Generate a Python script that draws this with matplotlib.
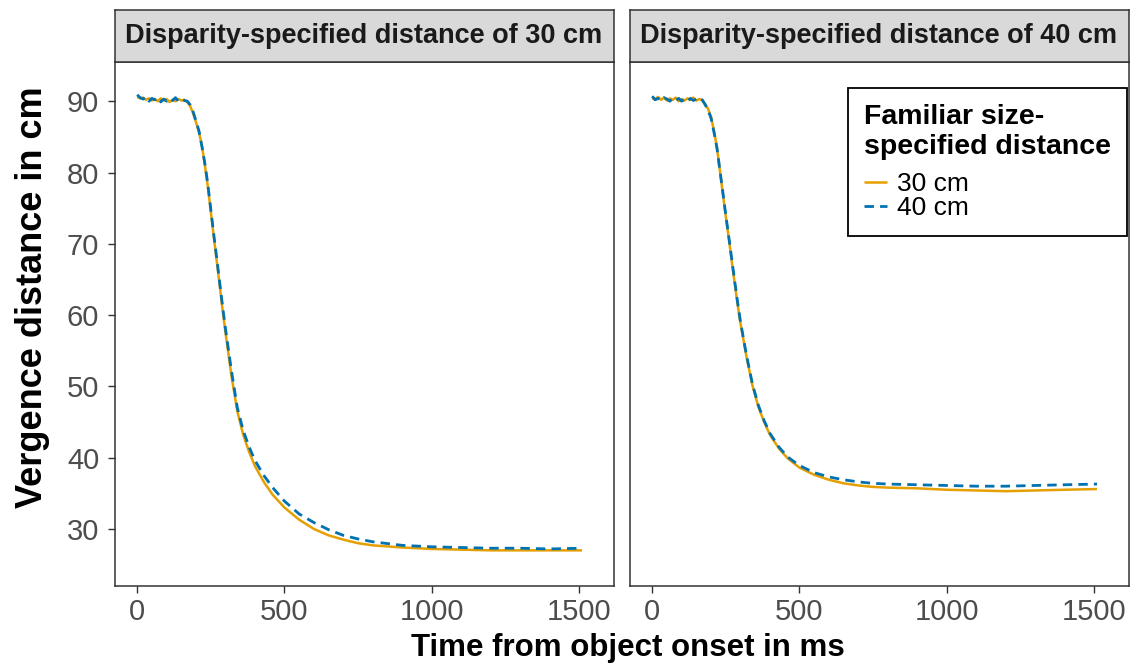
import matplotlib
matplotlib.use("Agg")
import matplotlib.pyplot as plt

plt.rcParams['font.family'] = ['Liberation Sans', 'DejaVu Sans']

# ---------------- data ----------------
time_ms = [0, 10, 20, 30, 40, 50, 60, 70, 80, 90, 100, 110, 120, 130, 140, 150, 160, 170,
           180, 190, 200, 210, 220, 230, 240, 250, 260, 270, 280, 290, 300, 320, 340, 360,
           380, 400, 430, 460, 500, 550, 600, 650, 700, 750, 800, 900, 1000, 1100, 1200,
           1300, 1400, 1510]

# Disparity 30 cm panel
d30_fs30 = [90.6, 90.4, 90.5, 90.2, 90.4, 90.1, 90.3, 90.0, 90.4, 90.1, 90.3, 89.9, 90.2, 90.0,
            90.3, 90.1, 90.2, 89.9, 89.3, 88.3, 87.0, 85.6, 83.7, 81.0, 78.0, 74.5, 71.0, 67.6,
            64.2, 60.7, 57.5, 51.5, 46.5, 43.2, 40.8, 38.8, 36.6, 34.8, 33.0, 31.3, 30.0, 29.1,
            28.5, 28.0, 27.7, 27.4, 27.2, 27.1, 27.0, 27.0, 27.0, 27.0]
d30_fs40 = [90.9, 90.5, 90.3, 90.6, 90.0, 90.4, 90.2, 90.5, 89.9, 90.3, 90.0, 90.4, 90.1, 90.5,
            90.0, 90.3, 90.1, 90.0, 89.5, 88.5, 87.2, 85.8, 83.6, 81.2, 78.3, 74.8, 71.3, 68.0,
            64.6, 61.2, 58.0, 52.2, 47.0, 43.8, 41.5, 39.6, 37.5, 35.8, 33.9, 32.1, 30.9, 29.9,
            29.1, 28.6, 28.2, 27.7, 27.5, 27.4, 27.3, 27.3, 27.2, 27.3]

# Disparity 40 cm panel
d40_fs30 = [90.4, 90.3, 90.6, 90.2, 90.5, 90.1, 90.4, 90.2, 90.5, 90.0, 90.3, 90.1, 90.4, 90.2,
            90.5, 90.1, 90.3, 90.1, 89.6, 88.9, 87.8, 85.8, 83.5, 80.2, 77.0, 73.8, 70.8, 67.6,
            64.5, 61.5, 58.8, 54.2, 50.2, 47.2, 45.0, 43.2, 41.3, 39.9, 38.6, 37.6, 36.9, 36.4,
            36.1, 35.9, 35.8, 35.7, 35.5, 35.4, 35.3, 35.4, 35.5, 35.6]
d40_fs40 = [90.7, 90.2, 90.4, 90.1, 90.5, 90.3, 90.0, 90.4, 90.1, 90.4, 90.0, 90.3, 90.0, 90.4,
            90.1, 90.3, 90.0, 90.2, 89.5, 88.7, 87.6, 85.6, 83.4, 80.3, 77.2, 74.0, 71.0, 67.9,
            64.8, 61.8, 59.0, 54.4, 50.4, 47.4, 45.2, 43.4, 41.5, 40.1, 38.9, 37.9, 37.3, 36.9,
            36.6, 36.4, 36.3, 36.2, 36.1, 36.0, 36.0, 36.1, 36.2, 36.3]

panel_titles = ["Disparity-specified distance of 30 cm", "Disparity-specified distance of 40 cm"]
series_labels = ["30 cm", "40 cm"]
legend_title = "Familiar size-\nspecified distance"
x_ticks = [0, 500, 1000, 1500]
y_ticks = [30, 40, 50, 60, 70, 80, 90]

# ---------------- figure ----------------
W, H = 1140, 668
fig = plt.figure(figsize=(W / 100, H / 100), dpi=100)

def fx(px):
    return px / W

def fy(py):
    return 1 - py / H

orange = "#E69F00"
blue = "#0072B2"
edge = "#333333"
tickcol = "#4D4D4D"

panel_top, panel_bot = 62, 586
strip_top = 9.5
panels_x = [(114.5, 613.5), (629.5, 1128.5)]
data_sets = [(d30_fs30, d30_fs40), (d40_fs30, d40_fs40)]

axes = []
for i, ((x0, x1), (s30, s40)) in enumerate(zip(panels_x, data_sets)):
    ax = fig.add_axes([fx(x0), fy(panel_bot), fx(x1) - fx(x0), fy(panel_top) - fy(panel_bot)])
    l1, = ax.plot(time_ms, s30, color=orange, lw=1.8, solid_capstyle='butt', label=series_labels[0])
    l2, = ax.plot(time_ms, s40, color=blue, lw=2.0, linestyle=(0, (3.4, 2.2)),
                  dash_capstyle='butt', label=series_labels[1])
    ax.set_xlim(-77, 1617)
    ax.set_ylim(22.0, 95.5)
    ax.set_xticks(x_ticks)
    ax.set_xticklabels([str(v) for v in x_ticks])
    ax.set_yticks(y_ticks)
    ax.tick_params(axis='both', direction='out', length=5, width=1, color=edge,
                   labelsize=21, labelcolor=tickcol)
    ax.tick_params(axis='y', pad=6)
    ax.tick_params(axis='x', pad=4)
    if i == 0:
        ax.set_yticklabels([str(v) for v in y_ticks])
    else:
        ax.tick_params(axis='y', left=False, labelleft=False)
    for sp in ax.spines.values():
        sp.set_color(edge)
        sp.set_linewidth(1.1)
    # strip
    sax = fig.add_axes([fx(x0), fy(panel_top), fx(x1) - fx(x0), fy(strip_top) - fy(panel_top)])
    sax.set_facecolor("#D9D9D9")
    sax.set_xticks([])
    sax.set_yticks([])
    for sp in sax.spines.values():
        sp.set_color(edge)
        sp.set_linewidth(1.1)
    sax.text(0.5, 0.5, panel_titles[i], transform=sax.transAxes, ha='center', va='center',
             fontsize=19.5, fontweight='bold', color="#1A1A1A")
    axes.append((ax, l1, l2))

fig.text(fx(628), fy(648), "Time from object onset in ms", ha='center', va='center',
         fontsize=22.5, fontweight='bold', color='black')
fig.text(fx(33), fy(297), "Vergence distance in cm", ha='center', va='center', rotation=90,
         fontsize=26, fontweight='bold', color='black')

ax_r, l1, l2 = axes[1]
leg = fig.legend([l1, l2], series_labels, title=legend_title, loc='upper right',
                 bbox_to_anchor=(fx(1127), fy(88)), bbox_transform=fig.transFigure,
                 fontsize=19, title_fontproperties={'weight': 'bold', 'size': 20.5},
                 frameon=True, fancybox=False, edgecolor='black', framealpha=1,
                 handlelength=0.85, handletextpad=0.4, labelspacing=0.0,
                 borderpad=0.6, alignment='left', borderaxespad=0)
leg.get_frame().set_linewidth(1.3)
# extra gap between legend title and its entries
leg._legend_box.sep = 9

fig.savefig("out.png", dpi=100)
